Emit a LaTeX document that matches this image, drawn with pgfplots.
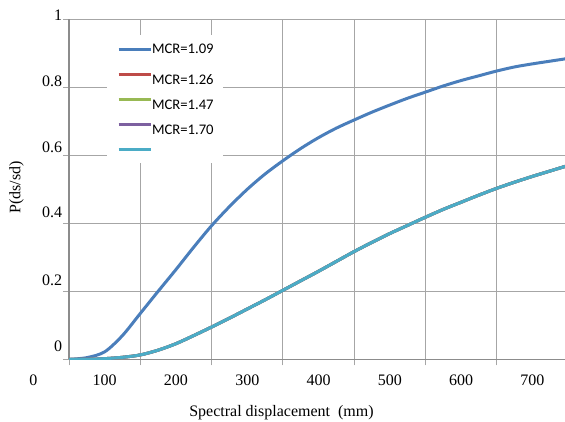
\documentclass[border=0pt]{standalone}
\usepackage{pgfplots}
\usepackage{pgfplotstable}
\pgfplotsset{compat=1.18}
\usepackage{fontspec}
\setmainfont{Liberation Serif}
\newfontfamily\calibri{Carlito}

\definecolor{mcrblue}{RGB}{74,126,187}
\definecolor{mcrred}{RGB}{190,75,72}
\definecolor{mcrgreen}{RGB}{152,185,84}
\definecolor{mcrpurple}{RGB}{125,96,160}
\definecolor{mcrcyan}{RGB}{75,172,198}
\definecolor{gridgray}{RGB}{166,166,166}
\definecolor{axisgray}{RGB}{140,140,140}

% MCR=1.09
\pgfplotstableread{
sd    p
50    0.000
75    0.005
100   0.022
125   0.070
150   0.135
175   0.200
200   0.264
225   0.330
250   0.393
275   0.449
300   0.500
325   0.545
350   0.584
375   0.620
400   0.652
425   0.680
450   0.704
475   0.727
500   0.748
525   0.768
550   0.786
575   0.804
600   0.820
625   0.834
650   0.848
675   0.860
700   0.869
725   0.877
750   0.885
}\curveA

% MCR=1.26, 1.47, 1.70 and the last one lie on top of each other
\pgfplotstableread{
sd    r126   r147   r170   last
50    0.000  0.000  0.000  0.000
75    0.000  0.000  0.000  0.000
100   0.002  0.002  0.002  0.002
125   0.006  0.006  0.006  0.006
150   0.013  0.013  0.013  0.013
175   0.027  0.027  0.027  0.027
200   0.046  0.046  0.046  0.046
225   0.070  0.070  0.070  0.070
250   0.095  0.095  0.095  0.095
275   0.121  0.121  0.121  0.121
300   0.148  0.148  0.148  0.148
325   0.175  0.175  0.175  0.175
350   0.203  0.203  0.203  0.203
375   0.231  0.231  0.231  0.231
400   0.259  0.259  0.259  0.259
425   0.288  0.288  0.288  0.288
450   0.317  0.317  0.317  0.317
475   0.344  0.344  0.344  0.344
500   0.370  0.370  0.370  0.370
525   0.394  0.394  0.394  0.394
550   0.418  0.418  0.418  0.418
575   0.441  0.441  0.441  0.441
600   0.462  0.462  0.462  0.462
625   0.483  0.483  0.483  0.483
650   0.503  0.503  0.503  0.503
675   0.521  0.521  0.521  0.521
700   0.538  0.538  0.538  0.538
725   0.554  0.554  0.554  0.554
750   0.570  0.570  0.570  0.570
}\curveB

\begin{document}
\begin{tikzpicture}
\begin{axis}[
  name=ax,
  scale only axis,
  width=374.25pt, height=255pt,
  xmin=50, xmax=750, ymin=0, ymax=1,
  axis x line*=bottom, axis y line*=left,
  axis line style={axisgray, line width=1pt},
  xtick={50,150,...,750},
  xticklabels={0,100,200,300,400,500,600,700},
  ytick={0,0.2,0.4,0.6,0.8,1},
  yticklabels={
    \raisebox{5.9pt}[0pt][0pt]{0},
    \raisebox{4.7pt}[0pt][0pt]{0.2},
    \raisebox{4.4pt}[0pt][0pt]{0.4},
    \raisebox{1.9pt}[0pt][0pt]{0.6},
    \raisebox{0.7pt}[0pt][0pt]{0.8},
    \raisebox{-0.8pt}[0pt][0pt]{1}},
  grid=major,
  major grid style={gridgray, line width=0.75pt},
  tick align=outside,
  major tick length=4.5pt,
  tick style={gridgray, line width=0.75pt},
  tick label style={font=\fontsize{12}{14}\selectfont},
  xticklabel style={anchor=center, xshift=-26.7pt, yshift=-11pt},
  yticklabel style={anchor=east, inner sep=0pt, xshift=-0.5pt},
  xlabel={Spectral displacement\ \ (mm)},
  ylabel={P(ds/sd)},
  label style={font=\fontsize{12}{14}\selectfont},
  xlabel style={at={(axis description cs:0.5,0)}, anchor=center, xshift=-27.75pt, yshift=-40pt},
  ylabel style={at={(axis description cs:-0.1052,0.505)}, anchor=center},
  legend style={at={(axis description cs:0.0762,0.9538)}, anchor=north west,
    draw=none, fill=white, inner xsep=7.3pt, inner ysep=7pt, row sep=11.75pt,
    font=\calibri\fontsize{11}{13}\selectfont,
    nodes={inner sep=0pt, text height=7pt, text depth=0pt}},
  legend cell align=left,
  legend image code/.code={\draw[#1, line width=2.25pt] (-1.5pt,0pt) -- (22.5pt,0pt);},
  every axis plot/.append style={line width=2.25pt, smooth, no markers},
]
\addplot[mcrblue] table[x=sd, y=p] {\curveA};
\addlegendentry{MCR=1.09}
\addplot[mcrred] table[x=sd, y=r126] {\curveB};
\addlegendentry{\raisebox{-4.5pt}[0pt][0pt]{MCR=1.26}}
\addplot[mcrgreen] table[x=sd, y=r147] {\curveB};
\addlegendentry{\raisebox{-4.2pt}[0pt][0pt]{MCR=1.47}}
\addplot[mcrpurple] table[x=sd, y=r170] {\curveB};
\addlegendentry{\raisebox{-3.8pt}[0pt][0pt]{MCR=1.70}}
\addplot[mcrcyan] table[x=sd, y=last] {\curveB};
\addlegendentry{}
\end{axis}
\pgfresetboundingbox
\path ([xshift=-51.75pt, yshift=-46.3pt]ax.south west) rectangle ([xshift=-2.25pt, yshift=14.5pt]ax.north east);
\end{tikzpicture}
\end{document}
